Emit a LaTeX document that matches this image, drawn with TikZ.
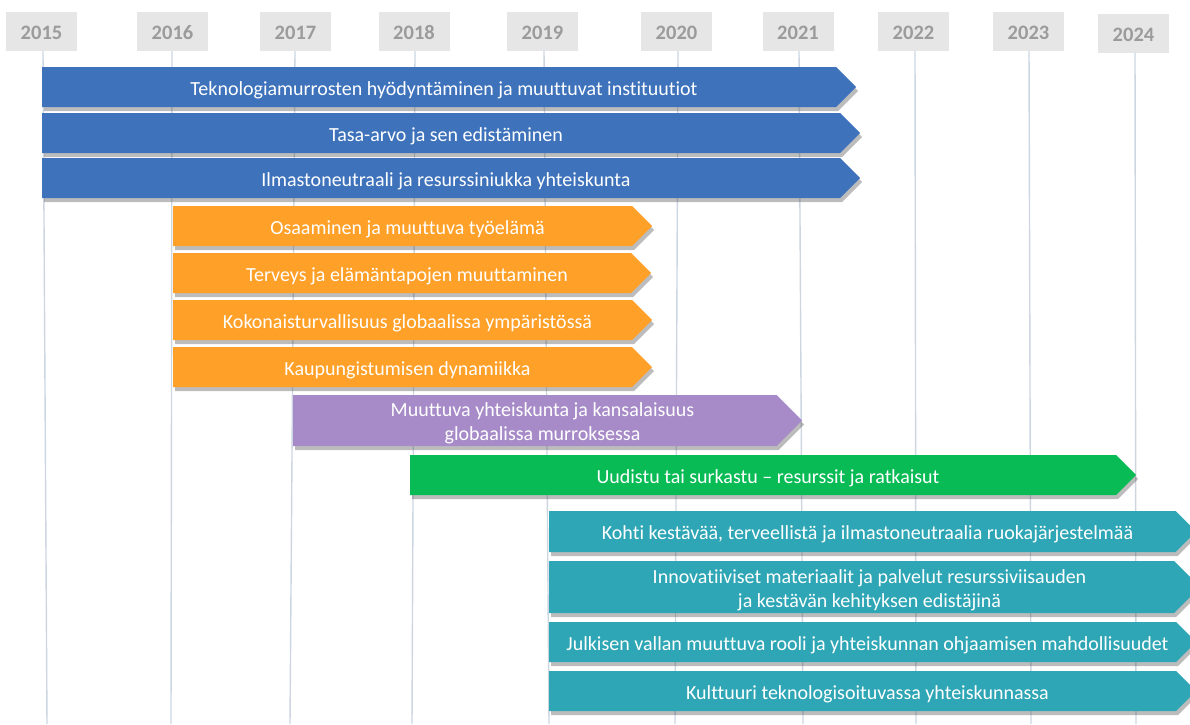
\documentclass[tikz,border=0pt]{standalone}
\usepackage{fontspec}
\setmainfont{Carlito}[Ligatures=CommonOff]
\usetikzlibrary{shadows}
\definecolor{tblue}{RGB}{62,114,187}
\definecolor{torange}{RGB}{255,160,40}
\definecolor{tpurple}{RGB}{167,139,200}
\definecolor{tgreen}{RGB}{8,187,85}
\definecolor{tteal}{RGB}{46,166,181}
\definecolor{yearbox}{RGB}{230,230,230}
\definecolor{yeartext}{RGB}{155,155,155}
\definecolor{gridline}{RGB}{205,214,224}
\tikzset{
  yearlabel/.style={fill=yearbox, text=yeartext, font=\fontsize{20.5}{22}\bfseries\selectfont,
    minimum width=71pt, minimum height=39pt, inner sep=0pt, text height=16pt, text depth=0pt},
  gridln/.style={draw=gridline, line width=1.4pt},
  bartext/.style={text=white, font=\fontsize{20}{24}\selectfont, align=center, inner sep=0pt, yshift=-3pt},
  barshadow/.style={drop shadow={shadow xshift=2pt, shadow yshift=-4pt, opacity=0.35, fill=black!75}}
}
% #1 name, #2 colour, #3 left, #4 tip x, #5 top, #6 bottom, #7 text
\newcommand{\tlbar}[7]{%
  \fill[#2, barshadow] (#3,#5) -- ({#4-(#6-#5)/2},#5) -- (#4,{(#5+#6)/2})
     -- ({#4-(#6-#5)/2},#6) -- (#3,#6) -- cycle;
  \node[bartext] (#1) at ({(#3+#4)/2-5},{(#5+#6)/2}) {#7};
}
\begin{document}
\begin{tikzpicture}[x=1pt,y=-1pt]
\useasboundingbox (0,0) rectangle (1190,724);
\clip (0,0) rectangle (1190,724);
% year labels
\node[yearlabel] (y2015) at (41.5,31.5) {2015};
\node[yearlabel] (y2016) at (172.5,31.5) {2016};
\node[yearlabel] (y2017) at (295.5,31.5) {2017};
\node[yearlabel] (y2018) at (414,31.5) {2018};
\node[yearlabel] (y2019) at (542.5,31.5) {2019};
\node[yearlabel] (y2020) at (676.5,31.5) {2020};
\node[yearlabel] (y2021) at (798,31.5) {2021};
\node[yearlabel] (y2022) at (913.5,31.5) {2022};
\node[yearlabel] (y2023) at (1028.5,31.5) {2023};
\node[yearlabel] (y2024) at (1133.5,33.5) {2024};
% grid lines
\coordinate (b2015) at (47,724);
\coordinate (b2016) at (171,724);
\coordinate (b2017) at (290,724);
\coordinate (b2018) at (412,724);
\coordinate (b2019) at (549,724);
\coordinate (b2020) at (675,724);
\coordinate (b2021) at (803,724);
\coordinate (b2022) at (916,724);
\coordinate (b2023) at (1031,724);
\coordinate (b2024) at (1136,724);
\draw[gridln] (43,51) -- (b2015);
\draw[gridln] (172,51) -- (b2016);
\draw[gridln] (295,51) -- (b2017);
\draw[gridln] (415,51) -- (b2018);
\draw[gridln] (544,51) -- (b2019);
\draw[gridln] (678,51) -- (b2020);
\draw[gridln] (799,51) -- (b2021);
\draw[gridln] (915,51) -- (b2022);
\draw[gridln] (1029,51) -- (b2023);
\draw[gridln] (1135,53) -- (b2024);
% bars
\tlbar{t1}{tblue}{42}{856}{67}{107}{Teknologiamurrosten hyödyntäminen ja muuttuvat instituutiot}
\tlbar{t2}{tblue}{42}{860}{113}{153}{Tasa-arvo ja sen edistäminen}
\tlbar{t3}{tblue}{42}{860}{158}{198}{Ilmastoneutraali ja resurssiniukka yhteiskunta}
\tlbar{o1}{torange}{173}{652}{206}{246}{Osaaminen ja muuttuva työelämä}
\tlbar{o2}{torange}{173}{651}{253}{293}{Terveys ja elämäntapojen muuttaminen}
\tlbar{o3}{torange}{173}{652}{300}{340}{Kokonaisturvallisuus globaalissa ympäristössä}
\tlbar{o4}{torange}{173}{652}{347}{387}{Kaupungistumisen dynamiikka}
\tlbar{p1}{tpurple}{293}{802}{395}{446}{Muuttuva yhteiskunta ja kansalaisuus\\globaalissa murroksessa}
\tlbar{g1}{tgreen}{410}{1136}{455}{495}{Uudistu tai surkastu – resurssit ja ratkaisut}
\tlbar{c1}{tteal}{549}{1196}{511}{552}{Kohti kestävää, terveellistä ja ilmastoneutraalia ruokajärjestelmää}
\tlbar{c2}{tteal}{549}{1200}{561}{613}{Innovatiiviset materiaalit ja palvelut resurssiviisauden\\ja kestävän kehityksen edistäjinä}
\tlbar{c3}{tteal}{549}{1196}{622}{662}{Julkisen vallan muuttuva rooli ja yhteiskunnan ohjaamisen mahdollisuudet}
\tlbar{c4}{tteal}{549}{1196}{671}{711}{Kulttuuri teknologisoituvassa yhteiskunnassa}
\end{tikzpicture}
\end{document}
